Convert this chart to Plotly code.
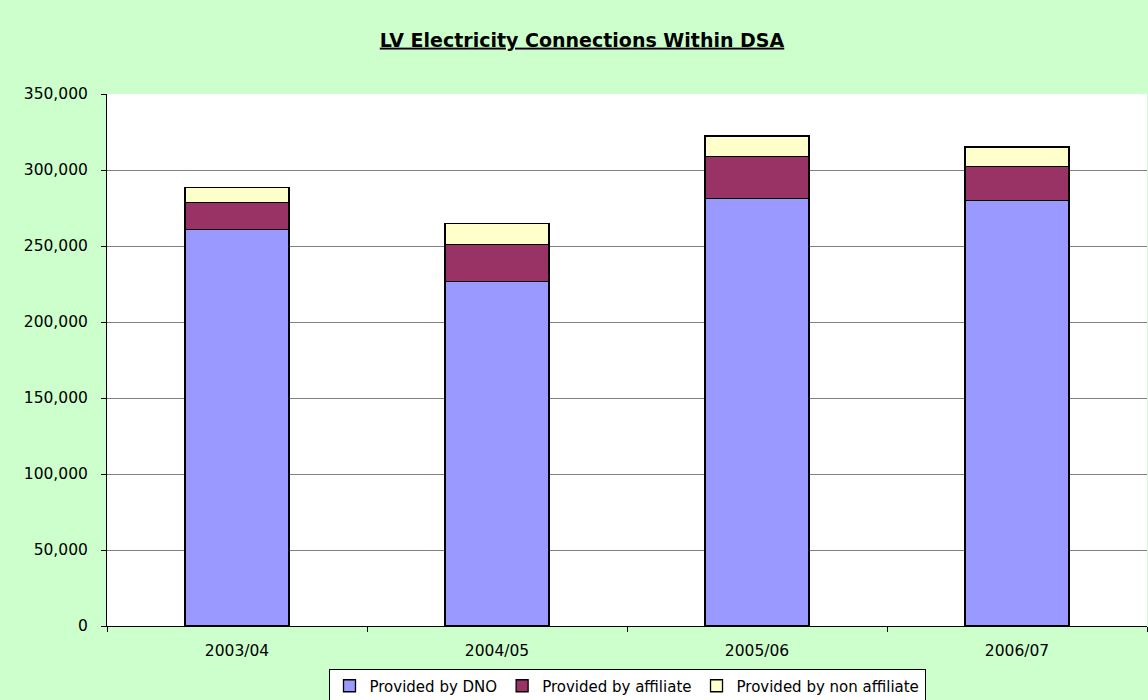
import plotly.graph_objects as go

categories = ["2003/04", "2004/05", "2005/06", "2006/07"]
dno = [261000, 226500, 281400, 280100]
affiliate = [17500, 24300, 27600, 22400]
non_affiliate = [9900, 14100, 13400, 12700]

series = [
    ("Provided by DNO", dno, "#9999FF"),
    ("Provided by affiliate", affiliate, "#993366"),
    ("Provided by non affiliate", non_affiliate, "#FFFFCC"),
]

fig = go.Figure()
for name, vals, color in series:
    fig.add_trace(go.Bar(
        x=categories, y=vals, name=name,
        marker=dict(color=color, line=dict(color="#000000", width=1.3)),
    ))

font_family = "DejaVu Sans, Verdana, sans-serif"
fig.update_layout(
    barmode="stack",
    bargap=0.6,
    width=1148, height=700,
    paper_bgcolor="#CCFFCC",
    plot_bgcolor="#FFFFFF",
    margin=dict(l=107, r=1, t=94, b=74, autoexpand=False),
    font=dict(family=font_family, size=15.5, color="#000000"),
    title=dict(
        text="<b><u>LV Electricity Connections Within DSA</u></b>",
        xref="container", x=0.507, xanchor="center",
        yref="container", y=1 - 40 / 700, yanchor="middle",
        font=dict(family=font_family, size=19, color="#000000"),
    ),
    showlegend=True,
    legend=dict(
        orientation="h", x=0.5, xanchor="center", xref="paper",
        y=-0.1128, yanchor="middle",
        bgcolor="#FFFFFF", bordercolor="#000000", borderwidth=1,
        font=dict(family=font_family, size=15),
        itemwidth=30, tracegroupgap=0,
        traceorder="normal",
    ),
    yaxis=dict(
        range=[0, 350000], dtick=50000, tickformat=",",
        showgrid=True, gridcolor="#808080", gridwidth=1,
        showline=True, linecolor="#000000", linewidth=1,
        ticks="outside", ticklen=5, tickcolor="#000000",
        ticklabelstandoff=10,
        zeroline=False, automargin=False,
        tickfont=dict(family=font_family, size=15.5),
    ),
    xaxis=dict(
        showline=True, linecolor="#000000", linewidth=1,
        ticks="outside", ticklen=5, tickcolor="#000000",
        tickson="boundaries", ticklabelstandoff=10,
        showgrid=False, automargin=False,
        tickfont=dict(family=font_family, size=15.5),
    ),
)

fig.write_html(
    "out.html",
    config={"displayModeBar": False},
    post_script="document.body.style.margin='0';document.body.style.overflow='hidden';",
)
